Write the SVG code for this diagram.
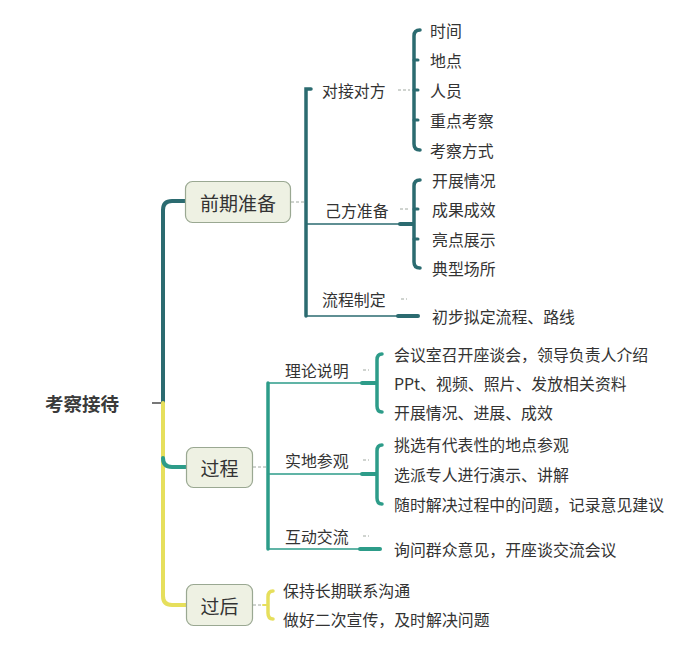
<svg xmlns="http://www.w3.org/2000/svg" width="693" height="649" viewBox="0 0 693 649">
<defs>
<style>
.t{font-family:"Noto Sans CJK SC","Microsoft YaHei",sans-serif;font-size:15.9px;fill:#333;dominant-baseline:central}
.m{font-family:"Noto Sans CJK SC",sans-serif;font-size:19px;fill:#333;text-anchor:middle;dominant-baseline:central}
.node{fill:#eef1e3;stroke:#9aa892;stroke-width:1.2}
.dk{fill:none;stroke:#2b6b70;stroke-linecap:round}
.gr{fill:none;stroke:#2d9c89;stroke-linecap:round}
.ye{fill:none;stroke:#e6df5c;stroke-linecap:round}
.ds{fill:none;stroke:#a0a8a0;stroke-width:1;stroke-dasharray:3 2}
</style>
</defs>
<rect width="693" height="649" fill="#fff"/>
<g id="connectors">
<line x1="152" y1="403" x2="163" y2="403" stroke="#777" stroke-width="2"/>
<path class="dk" stroke-width="4" d="M186,201 H172 Q163,201 163,210 V403"/>
<path class="ye" stroke-width="4" d="M163,403 V596 Q163,605 172,605 H186"/>
<path class="gr" stroke-width="4" d="M163,458 Q163,467 172,467 H186"/>
<line class="ds" x1="291" y1="202" x2="305" y2="202"/>
<path class="dk" stroke-width="3.5" d="M311,89 H306 V316"/>
<line class="dk" stroke-width="1.5" x1="306" y1="224" x2="400" y2="224"/>
<line class="dk" stroke-width="4" x1="400" y1="224" x2="413" y2="224"/>
<line class="dk" stroke-width="1.5" x1="306" y1="316" x2="398" y2="316"/>
<line class="dk" stroke-width="4" x1="398" y1="316" x2="418" y2="316"/>
<line class="ds" x1="398" y1="90" x2="410" y2="90"/>
<line class="ds" x1="400" y1="209" x2="410" y2="209"/>
<line class="ds" x1="401" y1="299" x2="407" y2="299"/>
<path class="dk" stroke-width="3.5" d="M420,30 Q414,30 414,36 V144 Q414,150 420,150"/>
<path class="dk" stroke-width="3" d="M414,60 h4 M414,90 h4 M414,120 h4"/>
<path class="dk" stroke-width="3.5" d="M420,180 Q414,180 414,186 V262 Q414,268 420,268"/>
<path class="dk" stroke-width="3" d="M414,209 h4 M414,239 h4"/>
<line class="ds" x1="253" y1="467" x2="266" y2="467"/>
<path class="gr" stroke-width="3.5" d="M268,383 V549"/>
<line class="gr" stroke-width="1.5" x1="268" y1="383" x2="362" y2="383"/>
<line class="gr" stroke-width="4" x1="362" y1="383" x2="376" y2="383"/>
<line class="gr" stroke-width="1.5" x1="268" y1="474" x2="362" y2="474"/>
<line class="gr" stroke-width="4" x1="362" y1="474" x2="376" y2="474"/>
<line class="gr" stroke-width="1.5" x1="268" y1="549" x2="360" y2="549"/>
<line class="gr" stroke-width="4" x1="360" y1="549" x2="380" y2="549"/>
<line class="ds" x1="363" y1="370" x2="369" y2="370"/>
<line class="ds" x1="363" y1="460" x2="369" y2="460"/>
<line class="ds" x1="363" y1="536" x2="369" y2="536"/>
<path class="gr" stroke-width="3.5" d="M382,354 Q377,354 377,360 V406 Q377,412 382,412"/>
<path class="gr" stroke-width="3.5" d="M382,445 Q377,445 377,451 V498 Q377,504 382,504"/>
<line class="ds" x1="253" y1="605" x2="265" y2="605"/>
<path class="ye" stroke-width="3.5" d="M273,591 Q268,591 268,597 V613 Q268,619 273,619"/>
<line class="ye" stroke-width="2" x1="263" y1="605" x2="268" y2="605"/>
</g>
<g id="root"><text x="45" y="403" font-family="Noto Sans CJK SC,sans-serif" font-size="18.5" font-weight="bold" fill="#3a3a3a" dominant-baseline="central">考察接待</text></g>
<g id="n-qianqi"><rect class="node" x="185.500" y="181.500" width="105" height="41" rx="7"/><text class="m" x="238" y="202">前期准备</text></g>
<g id="n-guocheng"><rect class="node" x="186.500" y="447.500" width="66" height="40" rx="7"/><text class="m" x="219.500" y="467.500">过程</text></g>
<g id="n-guohou"><rect class="node" x="186.500" y="584.500" width="66" height="41" rx="7"/><text class="m" x="219.500" y="605">过后</text></g>
<g id="s-duijie"><text class="t" x="322" y="90">对接对方</text></g>
<g id="s-jifang"><text class="t" x="325" y="210">己方准备</text></g>
<g id="s-liucheng"><text class="t" x="322" y="299">流程制定</text></g>
<g id="s-lilun"><text class="t" x="285" y="370">理论说明</text></g>
<g id="s-shidi"><text class="t" x="285" y="460">实地参观</text></g>
<g id="s-hudong"><text class="t" x="285" y="536">互动交流</text></g>
<g id="leaves">
<text class="t" x="430" y="30">时间</text>
<text class="t" x="430" y="60">地点</text>
<text class="t" x="430" y="90">人员</text>
<text class="t" x="430" y="120">重点考察</text>
<text class="t" x="430" y="150">考察方式</text>
<text class="t" x="432" y="180">开展情况</text>
<text class="t" x="432" y="209">成果成效</text>
<text class="t" x="432" y="239">亮点展示</text>
<text class="t" x="432" y="268">典型场所</text>
<text class="t" x="432" y="316">初步拟定流程、路线</text>
<text class="t" x="394" y="354">会议室召开座谈会，领导负责人介绍</text>
<text class="t" x="394" y="383">PPt、视频、照片、发放相关资料</text>
<text class="t" x="394" y="412">开展情况、进展、成效</text>
<text class="t" x="394" y="444">挑选有代表性的地点参观</text>
<text class="t" x="394" y="474">选派专人进行演示、讲解</text>
<text class="t" x="394" y="504">随时解决过程中的问题，记录意见建议</text>
<text class="t" x="394" y="549">询问群众意见，开座谈交流会议</text>
<text class="t" x="283" y="590">保持长期联系沟通</text>
<text class="t" x="283" y="619">做好二次宣传，及时解决问题</text>
</g>
</svg>
